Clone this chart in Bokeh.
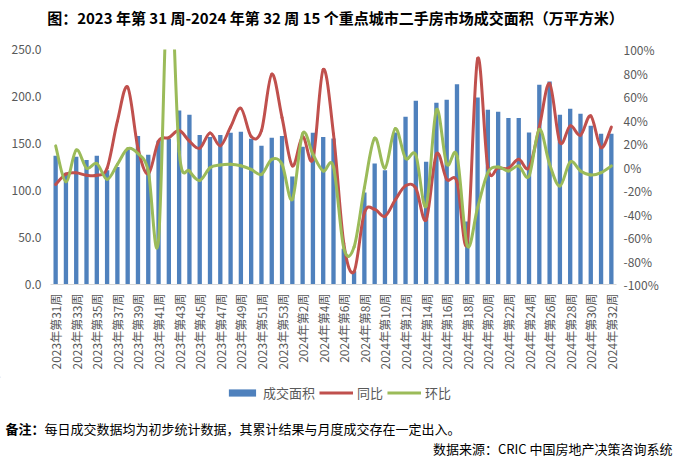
from bokeh.plotting import figure
from bokeh.layouts import column
from bokeh.models import (Range1d, LinearAxis, FixedTicker, PrintfTickFormatter,
                          Legend, LegendItem, Label, ColumnDataSource)
from bokeh.embed import file_html
from bokeh.resources import INLINE
import math

# ---------------- data ----------------
weeks_2023 = list(range(31, 54))
weeks_2024 = list(range(1, 33))
categories = [f"2023年第{w}周" for w in weeks_2023] + [f"2024年第{w}周" for w in weeks_2024]

# 成交面积 (万平方米)
area = [137, 119, 136, 132.5, 137, 121.5, 125, 144, 158, 138,
        153, 155, 185, 180.5, 159, 157, 159, 161.4, 162.5, 155,
        147.6, 156, 158, 115, 146.5, 161.4, 157, 155.4, 38, 14,
        98, 128.7, 121.6, 161.8, 178.5, 195.6, 130.5, 193.4, 196.6, 213,
        67, 199, 186, 183.8, 177, 177, 161.8, 212.6, 216, 180.6,
        187, 181.7, 169, 160.4, 160.4]

# 同比 (%)
yoy = [-14.8, -6, -5, -7, -7, -1, 39, 68, 16, -6,
       22, 25, 31, 22, 16, 29, 18, 34, 50, 26,
       31, 79, 42, 1, 26, 6.5, 83, 28, -65, -89,
       -39, -36, -42, -28, -16, -18, -45, 11, -10.5, -12.5,
       -64, 92, -0.6, -0.6, -1, 6.5, -0.6, 34, 71, 21,
       35, 27, 43.5, 16.5, 34]

# 环比 (%)
mom = [18, -12.5, 14.5, -1, 3, -10.5, 2.3, 15.6, 11.4, -3.4,
       -62, 180, 13, -3.4, -11.4, -0.6, 1.7, 2.3, 1, -2,
       -6.3, 6.5, 2.3, -27.6, 28.4, 10.8, -3.4, 0, -69, -68,
       -17.6, 24.5, -1, 32.7, 7.4, 10.2, -33.3, 48.6, 2.5, 9.4,
       -67, -34.7, -4.8, 0, -3.4, 0.9, -7.7, 32, 2.3, -16.2,
       4.3, -3.4, -6.8, -4.8, 0.9]

left_ticks = [0, 50, 100, 150, 200, 250]
right_ticks = [-100, -80, -60, -40, -20, 0, 20, 40, 60, 80, 100]

TITLE = "图：2023 年第 31 周-2024 年第 32 周 15 个重点城市二手房市场成交面积（万平方米）"
NOTE_HEAD = "备注："
NOTE_BODY = "每日成交数据均为初步统计数据，其累计结果与月度成交存在一定出入。"
SOURCE = "数据来源：CRIC 中国房地产决策咨询系统"
LEGEND_LABELS = ["成交面积", "同比", "环比"]

FONT = "Noto Sans CJK SC"
BLUE = "#4F81BD"
RED = "#C0504D"
GREEN = "#9BBB59"
GREY_TXT = "#595959"

W = 676
HH = 34      # header height
MH = 342     # main chart height
FH = 86      # footer height
n = len(categories)
xs = list(range(n))


def smooth_segments(xv, yv):
    """Bezier control points (Catmull-Rom style, as spreadsheet smoothed lines)."""
    d = dict(x0=[], y0=[], x1=[], y1=[], cx0=[], cy0=[], cx1=[], cy1=[])
    m = len(xv)
    for i in range(m - 1):
        i0 = max(i - 1, 0)
        i3 = min(i + 2, m - 1)
        x0, y0 = xv[i0], yv[i0]
        x1, y1 = xv[i], yv[i]
        x2, y2 = xv[i + 1], yv[i + 1]
        x3, y3 = xv[i3], yv[i3]
        d["x0"].append(x1); d["y0"].append(y1)
        d["x1"].append(x2); d["y1"].append(y2)
        d["cx0"].append(x1 + (x2 - x0) / 6.0); d["cy0"].append(y1 + (y2 - y0) / 6.0)
        d["cx1"].append(x2 - (x3 - x1) / 6.0); d["cy1"].append(y2 - (y3 - y1) / 6.0)
    return ColumnDataSource(d)


def no_align(fig):
    if "frame_align" in fig.properties():
        fig.frame_align = False


def text_panel(height):
    fig = figure(width=W, height=height, x_range=Range1d(0, W), y_range=Range1d(height, 0),
                 output_backend="svg", toolbar_location=None,
                 x_axis_location=None, y_axis_location=None,
                 min_border=0, min_border_left=0, min_border_right=0,
                 min_border_top=0, min_border_bottom=0)
    fig.outline_line_color = None
    fig.xgrid.visible = False
    fig.ygrid.visible = False
    no_align(fig)
    return fig


# ---------------- header: title ----------------
h = text_panel(HH)
h.add_layout(Label(x=335, y=17, text=TITLE, text_font=FONT, text_font_size="15px",
                   text_font_style="bold", text_align="center", text_baseline="middle",
                   text_color="black"))

# ---------------- main chart ----------------
p = figure(width=W, height=MH,
           x_range=Range1d(-0.5, n - 0.5), y_range=Range1d(0, 250),
           output_backend="svg", toolbar_location=None,
           min_border_left=50, min_border_right=W - 616,
           min_border_top=49 - HH, min_border_bottom=MH - (284 - HH))
no_align(p)
p.extra_y_ranges = {"pct": Range1d(-100, 100)}
p.outline_line_color = None
p.xgrid.visible = False
p.ygrid.visible = False

p.vbar(x=xs, top=area, width=0.42, fill_color=BLUE, line_color=None)

red_src = smooth_segments(xs, yoy)
green_src = smooth_segments(xs, mom)
p.bezier(x0="x0", y0="y0", x1="x1", y1="y1", cx0="cx0", cy0="cy0",
         cx1="cx1", cy1="cy1", source=red_src, y_range_name="pct",
         line_color=RED, line_width=3, line_cap="round")
p.bezier(x0="x0", y0="y0", x1="x1", y1="y1", cx0="cx0", cy0="cy0",
         cx1="cx1", cy1="cy1", source=green_src, y_range_name="pct",
         line_color=GREEN, line_width=3, line_cap="round")

# x axis
xa = p.xaxis[0]
xa.ticker = FixedTicker(ticks=list(range(0, n, 2)))
xa.major_label_overrides = {i: categories[i] for i in range(0, n, 2)}
xa.major_label_orientation = math.pi / 2
xa.major_label_text_font = FONT
xa.major_label_text_font_size = "12px"
xa.major_label_text_color = GREY_TXT
xa.major_tick_line_color = None
xa.major_tick_out = 0
xa.major_tick_in = 0
xa.minor_tick_line_color = None
xa.axis_line_color = "#D9D9D9"
xa.major_label_standoff = 9

# left axis
ya = p.yaxis[0]
ya.ticker = FixedTicker(ticks=left_ticks)
ya.formatter = PrintfTickFormatter(format="%.1f")
ya.axis_line_color = None
ya.major_tick_line_color = None
ya.minor_tick_line_color = None
ya.major_tick_out = 0
ya.major_tick_in = 0
ya.major_label_text_font = FONT
ya.major_label_text_font_size = "12px"
ya.major_label_text_color = GREY_TXT
ya.major_label_standoff = 9

# right axis
ra = LinearAxis(y_range_name="pct", ticker=FixedTicker(ticks=right_ticks),
                formatter=PrintfTickFormatter(format="%d%%"))
ra.axis_line_color = None
ra.major_tick_line_color = None
ra.minor_tick_line_color = None
ra.major_tick_out = 0
ra.major_tick_in = 0
ra.major_label_text_font = FONT
ra.major_label_text_font_size = "12px"
ra.major_label_text_color = GREY_TXT
ra.major_label_standoff = 7
p.add_layout(ra, "right")

# ---------------- footer: legend + notes ----------------
f = text_panel(FH)
# legend swatch proxies (placed outside the visible range; only their legend glyphs show)
lg_bar = f.vbar(x=[-1000], top=[1], width=1, fill_color=BLUE, line_color=None)
lg_red = f.line(x=[-1000, -999], y=[1, 1], line_color=RED, line_width=3)
lg_green = f.line(x=[-1000, -999], y=[1, 1], line_color=GREEN, line_width=3)

legend = Legend(items=[LegendItem(label=LEGEND_LABELS[0], renderers=[lg_bar]),
                       LegendItem(label=LEGEND_LABELS[1], renderers=[lg_red]),
                       LegendItem(label=LEGEND_LABELS[2], renderers=[lg_green])],
                orientation="horizontal", location="top_center",
                border_line_color=None, background_fill_alpha=0,
                label_text_font=FONT, label_text_font_size="13px",
                label_text_color=GREY_TXT, glyph_width=34, glyph_height=9,
                label_standoff=4, spacing=4, padding=0, margin=7)
f.add_layout(legend, "center")

f.add_layout(Label(x=5, y=52, text=NOTE_HEAD, text_font=FONT, text_font_size="13px",
                   text_font_style="bold", text_align="left", text_baseline="middle",
                   text_color="black"))
f.add_layout(Label(x=44, y=52, text=NOTE_BODY, text_font=FONT, text_font_size="13px",
                   text_align="left", text_baseline="middle", text_color="black"))
f.add_layout(Label(x=672, y=72, text=SOURCE, text_font=FONT, text_font_size="13px",
                   text_align="right", text_baseline="middle", text_color="black"))

layout = column(h, p, f, spacing=0)
open("out.html", "w").write(file_html(layout, INLINE))
